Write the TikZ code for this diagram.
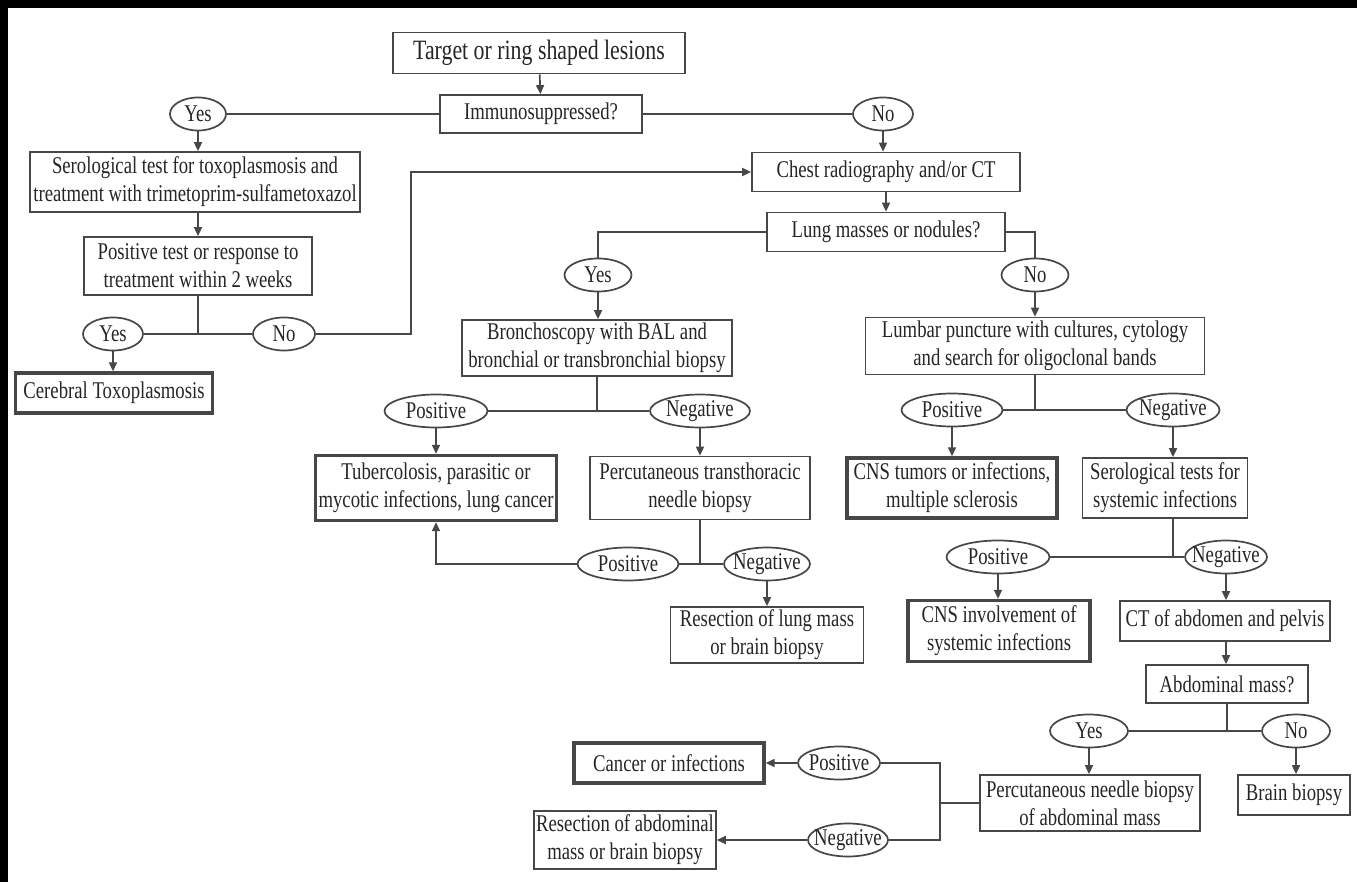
\documentclass[tikz,border=0pt]{standalone}
\usepackage{fontspec}
\setmainfont[FakeStretch=0.78]{Liberation Serif}
\usetikzlibrary{shapes.geometric,arrows.meta,calc}
\newcommand{\choicetext}[1]{\makebox[0pt]{#1}}
\tikzset{
    chart/.style={
        x=1pt, y=-1pt, color=black!72, line width=1.7pt,
        every node/.style={font=\fontsize{24}{28}\selectfont, text=black!85},
        % rectangle for steps
        box/.style={draw, rectangle, align=center, inner sep=2pt},
        % rectangle with heavy frame for diagnoses
        endbox/.style={box, line width=3.4pt},
        % ellipse for the answers
        choice/.style={draw, ellipse, inner sep=0pt, minimum height=33},
        flow/.style={-{Triangle[length=9pt,width=8pt]}}
    }
}
\begin{document}
\begin{tikzpicture}[chart]
  \fill[black] (0,0) rectangle (1357,882);
  \fill[white] (8,8) rectangle (1357,882);
  \useasboundingbox (0,0) rectangle (1357,882);

  \node[box, minimum width=292, minimum height=41, font=\fontsize{28}{32}\selectfont] (target) at (539,53) {Target or ring shaped lesions};
  \node[box, minimum width=202, minimum height=38] (immuno) at (541,114) {Immunosuppressed?};
  \node[choice, minimum width=56] (yesA) at (198,114) {\choicetext{Yes}};
  \node[choice, minimum width=60] (noA) at (883,114) {\choicetext{No}};
  \node[box, minimum width=330, minimum height=60] (serotoxo) at (195,182) {Serological test for toxoplasmosis and\\treatment with trimetoprim-sulfametoxazol};
  \node[box, minimum width=268, minimum height=39] (chest) at (886,172) {Chest radiography and/or CT};
  \node[box, minimum width=228, minimum height=58] (postest) at (198,266) {Positive test or response to\\treatment within 2 weeks};
  \node[choice, minimum width=60] (yesB) at (113,334) {\choicetext{Yes}};
  \node[choice, minimum width=62] (noB) at (284,334) {\choicetext{No}};
  \node[endbox, minimum width=197, minimum height=40] (toxo) at (114,393) {Cerebral Toxoplasmosis};
  \node[box, minimum width=238, minimum height=39] (lung) at (886,232) {Lung masses or nodules?};
  \node[choice, minimum width=67] (yesC) at (598,275) {\choicetext{Yes}};
  \node[choice, minimum width=67] (noC) at (1035,275) {\choicetext{No}};
  \node[box, minimum width=270, minimum height=56] (broncho) at (597,348) {Bronchoscopy with BAL and\\bronchial or transbronchial biopsy};
  \node[box, minimum width=339, minimum height=57] (lumbar) at (1035,346) {Lumbar puncture with cultures, cytology\\and search for oligoclonal bands};
  \node[choice, minimum width=103] (posA) at (436,411) {\choicetext{Positive}};
  \node[choice, minimum width=100] (negA) at (700,411) {\choicetext{Negative}};
  \node[endbox, minimum width=241, minimum height=65] (tuberc) at (436,488) {Tubercolosis, parasitic or\\mycotic infections, lung cancer};
  \node[box, minimum width=220, minimum height=63] (needle) at (700,488) {Percutaneous transthoracic\\needle biopsy};
  \node[choice, minimum width=101] (posB) at (628,564) {\choicetext{Positive}};
  \node[choice, minimum width=86] (negB) at (767,564) {\choicetext{Negative}};
  \node[box, minimum width=193, minimum height=56] (reslung) at (767,635) {Resection of lung mass\\or brain biopsy};
  \node[choice, minimum width=101] (posC) at (952,410) {\choicetext{Positive}};
  \node[choice, minimum width=93] (negC) at (1173,410) {\choicetext{Negative}};
  \node[endbox, minimum width=210, minimum height=60] (cnstumor) at (952,488) {CNS tumors or infections,\\multiple sclerosis};
  \node[box, minimum width=165, minimum height=60] (serosys) at (1165,488) {Serological tests for\\systemic infections};
  \node[choice, minimum width=103] (posD) at (998,557) {\choicetext{Positive}};
  \node[choice, minimum width=82] (negD) at (1226,557) {\choicetext{Negative}};
  \node[endbox, minimum width=182, minimum height=61] (cnsinv) at (999,631) {CNS involvement of\\systemic infections};
  \node[box, minimum width=210, minimum height=40] (ctabd) at (1225,621) {CT of abdomen and pelvis};
  \node[box, minimum width=162, minimum height=38] (abdmass) at (1227,684) {Abdominal mass?};
  \node[choice, minimum width=78] (yesD) at (1089,731) {\choicetext{Yes}};
  \node[choice, minimum width=68] (noD) at (1296,731) {\choicetext{No}};
  \node[box, minimum width=220, minimum height=56] (abdneedle) at (1090,803) {Percutaneous needle biopsy\\of abdominal mass};
  \node[box, minimum width=112, minimum height=40] (brain) at (1294,795) {Brain biopsy};
  \node[choice, minimum width=82] (posE) at (839,763) {\choicetext{Positive}};
  \node[choice, minimum width=80] (negE) at (848,840) {\choicetext{Negative}};
  \node[endbox, minimum width=190, minimum height=40] (cancer) at (669,763) {Cancer or infections};
  \node[box, minimum width=174, minimum height=58] (resabd) at (625,840) {Resection of abdominal\\mass or brain biopsy};

  \coordinate (bendA) at (411,334);
  \coordinate (bendB) at (940,803);

  % immunosuppressed branch
  \draw[flow] (target) -- (immuno);
  \draw (immuno) -- (yesA);
  \draw (immuno) -- (noA);
  \draw[flow] (yesA) -- (yesA |- serotoxo.north);
  \draw[flow] (noA) -- (noA |- chest.north);
  \draw[flow] (postest |- serotoxo.south) -- (postest);
  \draw (postest) -- (postest |- yesB);
  \draw (yesB) -- (noB);
  \draw[flow] (noB) -- (bendA) |- (chest);
  \draw[flow] (yesB) -- (yesB |- toxo.north);

  % lung masses
  \draw[flow] (chest) -- (lung);
  \draw (lung.west) -| (yesC);
  \draw (lung.east) -| (noC);
  \draw[flow] (yesC) -- (yesC |- broncho.north);
  \draw[flow] (noC) -- (noC |- lumbar.north);
  \draw (broncho) -- (broncho |- posA);
  \draw (posA) -- (negA);
  \draw[flow] (posA) -- (posA |- tuberc.north);
  \draw[flow] (negA) -- (negA |- needle.north);
  \draw (needle) -- (needle |- posB);
  \draw (posB) -- (negB);
  \draw[flow] (posB) -| (tuberc);
  \draw[flow] (negB) -- (negB |- reslung.north);

  % lumbar puncture
  \draw (lumbar) -- (lumbar |- posC);
  \draw (posC) -- (negC);
  \draw[flow] (posC) -- (posC |- cnstumor.north);
  \draw[flow] (negC) -- (negC |- serosys.north);
  \draw (negC |- serosys.south) -- (negC |- posD);
  \draw (posD) -- (negD);
  \draw[flow] (posD) -- (posD |- cnsinv.north);
  \draw[flow] (negD) -- (negD |- ctabd.north);
  \draw[flow] (negD |- ctabd.south) -- (negD |- abdmass.north);
  \draw (abdmass) -- (abdmass |- yesD);
  \draw (yesD) -- (noD);
  \draw[flow] (yesD) -- (yesD |- abdneedle.north);
  \draw[flow] (noD) -- (noD |- brain.north);
  \draw (abdneedle) -- (bendB);
  \draw (posE) -- (bendB |- posE) -- (bendB |- negE) -- (negE);
  \draw[flow] (posE) -- (cancer);
  \draw[flow] (negE) -- (resabd);
\end{tikzpicture}
\end{document}
